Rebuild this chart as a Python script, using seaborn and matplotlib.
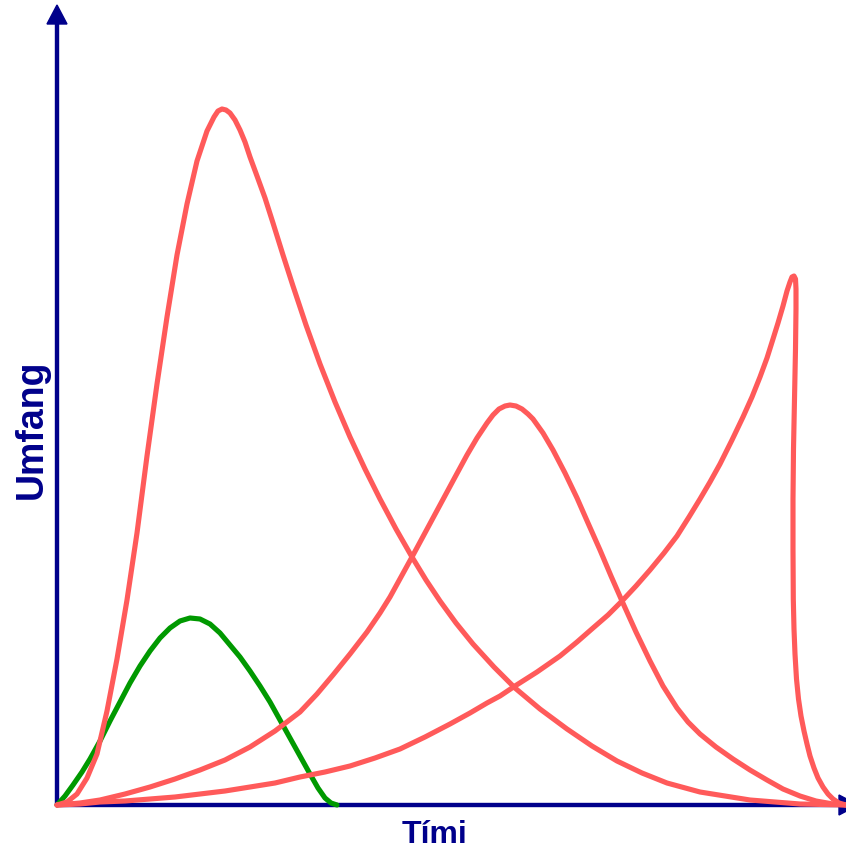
import matplotlib
matplotlib.use("Agg")
import matplotlib.pyplot as plt
import pandas as pd
import seaborn as sns

# chart units: x = pixels right of the origin, y = pixels above the time axis
ORIGIN_X = 57
BASE_Y = 806

bigRedPx = [57, 67, 77, 87, 97, 107, 117, 127, 137, 147, 157, 167, 177, 187, 197, 207, 214, 218, 222,
            226, 230, 235, 240, 245, 250, 257, 265, 273, 283, 293, 306, 320, 335, 350, 365, 380, 396,
            412, 426, 440, 456, 473, 494, 515, 540, 567, 592, 617, 642, 667, 700, 750, 800, 846]
bigRedPy = [806, 803, 795, 779, 755, 712, 660, 601, 534, 457, 385, 318, 256, 205, 162, 132, 118, 112, 110,
            111, 114, 121, 131, 143, 158, 177, 199, 224, 256, 287, 326, 365, 403, 438, 470, 500, 530,
            558, 581, 602, 624, 645, 668, 689, 710, 730, 747, 762, 774, 784, 793, 801, 805, 806]

midRedPx = [57, 80, 100, 125, 150, 175, 200, 225, 250, 275, 300, 317, 333, 350, 367, 380, 390, 401, 412,
            426, 440, 454, 467, 477, 487, 493, 499, 505, 510, 516, 522, 528, 533, 543, 553, 565, 577,
            588, 600, 611, 622, 636, 650, 663, 677, 688, 700, 716, 733, 750, 767, 783, 800, 816, 833, 846]
midRedPy = [806, 804, 801, 795, 788, 780, 771, 761, 748, 732, 713, 695, 676, 655, 633, 614, 598, 578, 558,
            532, 506, 480, 456, 439, 424, 416, 410, 407, 406, 407, 410, 415, 420, 434, 451, 474, 499,
            524, 551, 577, 602, 633, 662, 687, 709, 723, 735, 748, 760, 771, 781, 790, 797, 802, 805, 806]

rightRedPx = [57, 80, 100, 125, 150, 175, 200, 225, 250, 275, 300, 325, 350, 375, 400, 425, 450, 470, 487,
              500, 515, 537, 560, 577, 593, 608, 622, 636, 650, 664, 677, 689, 700, 710, 720, 732, 743,
              752, 760, 767, 773, 778, 783, 787, 790, 792, 794, 795.5, 796, 796, 795.5, 794.5, 793.5, 793,
              793, 793.3, 794, 795, 796.5, 798.5, 801, 804, 807, 810, 814, 818, 823, 828, 833, 839, 846]
rightRedPy = [806, 805, 803, 802, 800, 798, 795, 792, 788, 784, 778, 773, 767, 759, 750, 738, 725, 714, 704,
              697, 687, 673, 657, 643, 629, 616, 602, 587, 571, 554, 537, 518, 500, 483, 465, 441, 418,
              398, 378, 359, 340, 324, 307, 292, 283, 278, 277, 280, 290, 310, 350, 400, 450, 500,
              550, 600, 630, 655, 680, 700, 717, 732, 745, 757, 769, 779, 788, 795, 800, 804, 806]

greenPx = [57, 65, 73, 82, 90, 100, 110, 120, 130, 140, 150, 160, 170, 180, 190, 200, 210, 220, 230,
           240, 250, 260, 270, 280, 290, 300, 310, 318, 325, 331, 337]
greenPy = [806, 797, 786, 773, 760, 742, 722, 703, 684, 667, 652, 639, 629, 622, 619, 620, 625, 634, 646,
           658, 672, 687, 703, 721, 739, 757, 775, 789, 799, 804, 806]

xLabel = "Tími"
yLabel = "Umfang"

NAVY = "#00008B"
RED = "#FF5A5A"
GREEN = "#009900"


def toFrame(px, py):
    return pd.DataFrame({"x": [p - ORIGIN_X for p in px], "y": [BASE_Y - p for p in py]})


if __name__ == '__main__':
    sns.set_style("white")
    plt.rcParams['font.family'] = ['Liberation Sans', 'DejaVu Sans']

    fig = plt.figure(figsize=(8.46, 8.54), dpi=100)
    ax = fig.add_axes([0, 0, 1, 1])
    ax.set_xlim(-ORIGIN_X, 846 - ORIGIN_X)
    ax.set_ylim(BASE_Y - 854, BASE_Y)
    ax.axis('off')

    # axes with arrow heads
    ax.arrow(0, 0, 0, BASE_Y - 6, width=3, head_width=20, head_length=19,
             length_includes_head=True, color=NAVY, zorder=1)
    ax.arrow(0, 0, 858 - ORIGIN_X, 0, width=3, head_width=20, head_length=19,
             length_includes_head=True, color=NAVY, zorder=1, clip_on=True)

    lw = 3.7
    sns.lineplot(data=toFrame(greenPx, greenPy), x="x", y="y", sort=False, estimator=None,
                 color=GREEN, lw=lw, ax=ax, zorder=2, solid_capstyle='round', solid_joinstyle='round')
    for px, py in [(bigRedPx, bigRedPy), (midRedPx, midRedPy), (rightRedPx, rightRedPy)]:
        sns.lineplot(data=toFrame(px, py), x="x", y="y", sort=False, estimator=None,
                     color=RED, lw=lw, ax=ax, zorder=3, solid_capstyle='round', solid_joinstyle='round')

    ax.text(435 - ORIGIN_X, BASE_Y - 835, xLabel, ha='center', va='center',
            fontsize=23, fontweight='bold', color=NAVY)
    ax.text(32 - ORIGIN_X, BASE_Y - 429, yLabel, ha='center', va='center', rotation=90,
            fontsize=27, fontweight='bold', color=NAVY)

    ax.set_xlabel("")
    ax.set_ylabel("")
    fig.savefig("out.png", dpi=100)
